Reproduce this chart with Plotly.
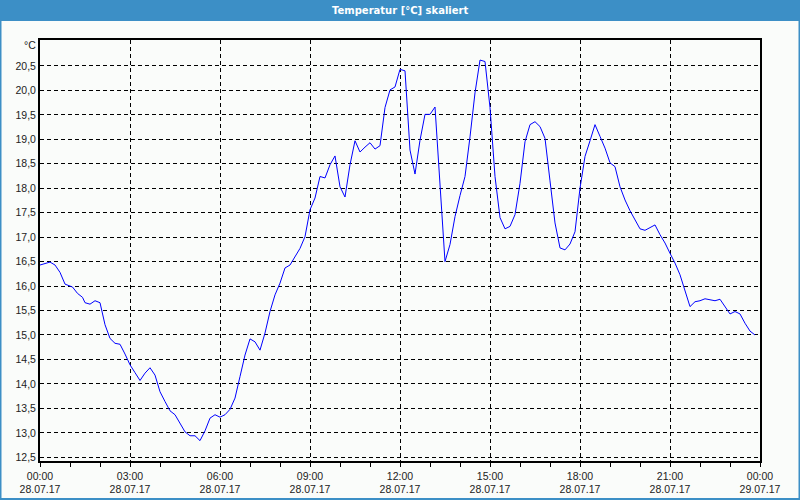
import plotly.graph_objects as go

times = ["00:00","00:20","00:30","00:40","00:50","01:05","01:15","01:25","01:30","01:40","01:50",
         "02:00","02:10","02:20","02:30","02:40","02:50","03:00","03:10","03:20","03:30","03:40","03:50",
         "04:00","04:10","04:20","04:30","04:40","04:50","05:00","05:10","05:20","05:30","05:40","05:50",
         "06:00","06:10","06:20","06:30","06:40","06:50","07:00","07:10","07:20","07:30","07:40","07:50",
         "08:00","08:10","08:20","08:30","08:40","08:50","09:00","09:10","09:20","09:30","09:40","09:50",
         "10:00","10:10","10:20","10:30","10:40","10:50","11:00","11:10","11:20","11:30","11:40","11:50",
         "11:55","12:00","12:10","12:20","12:30","12:40","12:50","13:00","13:10","13:20","13:30","13:40","13:50",
         "14:00","14:10","14:20","14:30","14:40","14:50","15:00","15:10","15:20","15:30","15:40","15:50",
         "16:00","16:10","16:20","16:30","16:40","16:50","17:00","17:10","17:20","17:30","17:40","17:50",
         "18:00","18:10","18:20","18:30","18:40","18:50","19:00","19:10","19:20","19:30","19:40","19:50",
         "20:00","20:10","20:20","20:30","20:40","20:50","21:00","21:10","21:20","21:30","21:40","21:50",
         "22:00","22:10","22:20","22:30","22:40","22:50","23:00","23:10","23:20","23:30","23:40","23:50"]
temps = [16.43,16.49,16.43,16.28,16.04,15.98,15.85,15.77,15.66,15.63,15.70,
         15.66,15.21,14.93,14.83,14.81,14.61,14.39,14.23,14.07,14.22,14.33,14.18,
         13.84,13.64,13.45,13.37,13.20,13.02,12.94,12.94,12.84,13.04,13.30,13.37,
         13.32,13.37,13.48,13.71,14.15,14.59,14.92,14.86,14.69,15.04,15.48,15.82,
         16.06,16.37,16.43,16.60,16.77,17.01,17.56,17.80,18.24,18.21,18.48,18.66,
         18.03,17.82,18.48,18.97,18.74,18.84,18.93,18.80,18.87,19.65,20.01,20.07,
         20.25,20.43,20.40,18.78,18.29,18.98,19.51,19.51,19.66,18.10,16.50,16.85,17.42,
         17.85,18.24,19.05,19.95,20.62,20.59,19.65,18.24,17.40,17.17,17.22,17.46,
         18.10,18.95,19.30,19.36,19.26,19.02,18.15,17.29,16.78,16.74,16.86,17.11,
         18.00,18.65,18.97,19.30,19.06,18.82,18.52,18.44,18.03,17.76,17.54,17.35,
         17.17,17.14,17.19,17.25,17.05,16.88,16.67,16.47,16.23,15.89,15.58,15.68,
         15.70,15.74,15.72,15.70,15.73,15.57,15.43,15.48,15.43,15.24,15.08,15.00]

tick_times = ["2017-07-28 00:00","2017-07-28 03:00","2017-07-28 06:00","2017-07-28 09:00",
              "2017-07-28 12:00","2017-07-28 15:00","2017-07-28 18:00","2017-07-28 21:00",
              "2017-07-29 00:00"]
tick_labels = ["00:00<br>28.07.17","03:00<br>28.07.17","06:00<br>28.07.17","09:00<br>28.07.17",
               "12:00<br>28.07.17","15:00<br>28.07.17","18:00<br>28.07.17","21:00<br>28.07.17",
               "00:00<br>29.07.17"]
y_ticks = [12.5,13.0,13.5,14.0,14.5,15.0,15.5,16.0,16.5,17.0,17.5,18.0,18.5,19.0,19.5,20.0,20.5]

title_text = "Temperatur [°C] skaliert"
unit_text = "°C"

x_dates = ["2017-07-28 " + t for t in times]

BLUE = "rgb(60,143,198)"
W, H = 800, 500
L, R, T, B = 40, 760, 40, 461

fig = go.Figure()
fig.add_trace(go.Scatter(x=x_dates, y=temps, mode="lines",
                         line=dict(color="rgb(0,0,255)", width=1), hoverinfo="skip"))

font = dict(family="Liberation Sans, Arial, sans-serif", size=10.5, color="#222222")

fig.update_layout(
    width=W, height=H,
    margin=dict(l=0, r=0, t=0, b=0),
    paper_bgcolor="rgb(250,252,250)",
    plot_bgcolor="rgb(250,252,250)",
    showlegend=False,
    separators=",.",
    font=font,
    xaxis=dict(
        domain=[L / W, R / W],
        automargin=False,
        type="date",
        range=["2017-07-28 00:00", "2017-07-29 00:00"],
        tickmode="array", tickvals=tick_times, ticktext=tick_labels,
        showgrid=True, gridcolor="black", gridwidth=1, griddash="4px,3px",
        showline=True, linecolor="black", linewidth=2, mirror=True,
        ticks="outside", ticklen=4, tickcolor="black", tickwidth=1,
        minor=dict(dtick=3600000, ticks="outside", ticklen=4, tickcolor="black", showgrid=False),
        zeroline=False, fixedrange=True, tickfont=font,
    ),
    yaxis=dict(
        domain=[(H - B) / H, (H - T) / H],
        automargin=False,
        range=[12.424, 21.03],
        tickmode="array", tickvals=y_ticks, tickformat=".1f",
        showgrid=True, gridcolor="black", gridwidth=1, griddash="4px,3px",
        showline=True, linecolor="black", linewidth=2, mirror=True,
        ticks="", zeroline=False, fixedrange=True, tickfont=font,
    ),
    shapes=[
        dict(type="rect", xref="paper", yref="paper", x0=0, x1=1, y0=(H - 21) / H, y1=1,
             fillcolor=BLUE, line=dict(width=0), layer="below"),
        dict(type="rect", xref="paper", yref="paper", x0=0.5 / W, x1=1 - 0.5 / W, y0=1 / H, y1=1,
             line=dict(color=BLUE, width=2), fillcolor="rgba(0,0,0,0)", layer="above"),
    ],
    annotations=[
        dict(text="<b>" + title_text + "</b>", xref="paper", yref="paper", x=0.5, y=1 - 10 / H,
             xanchor="center", yanchor="middle", showarrow=False,
             font=dict(family="DejaVu Sans, sans-serif", size=10, color="white")),
        dict(text=unit_text, xref="paper", yref="paper", x=38 / W, y=1 - 45 / H,
             xanchor="right", yanchor="middle", showarrow=False, font=font),
    ],
)

fig.write_html("out.html")
